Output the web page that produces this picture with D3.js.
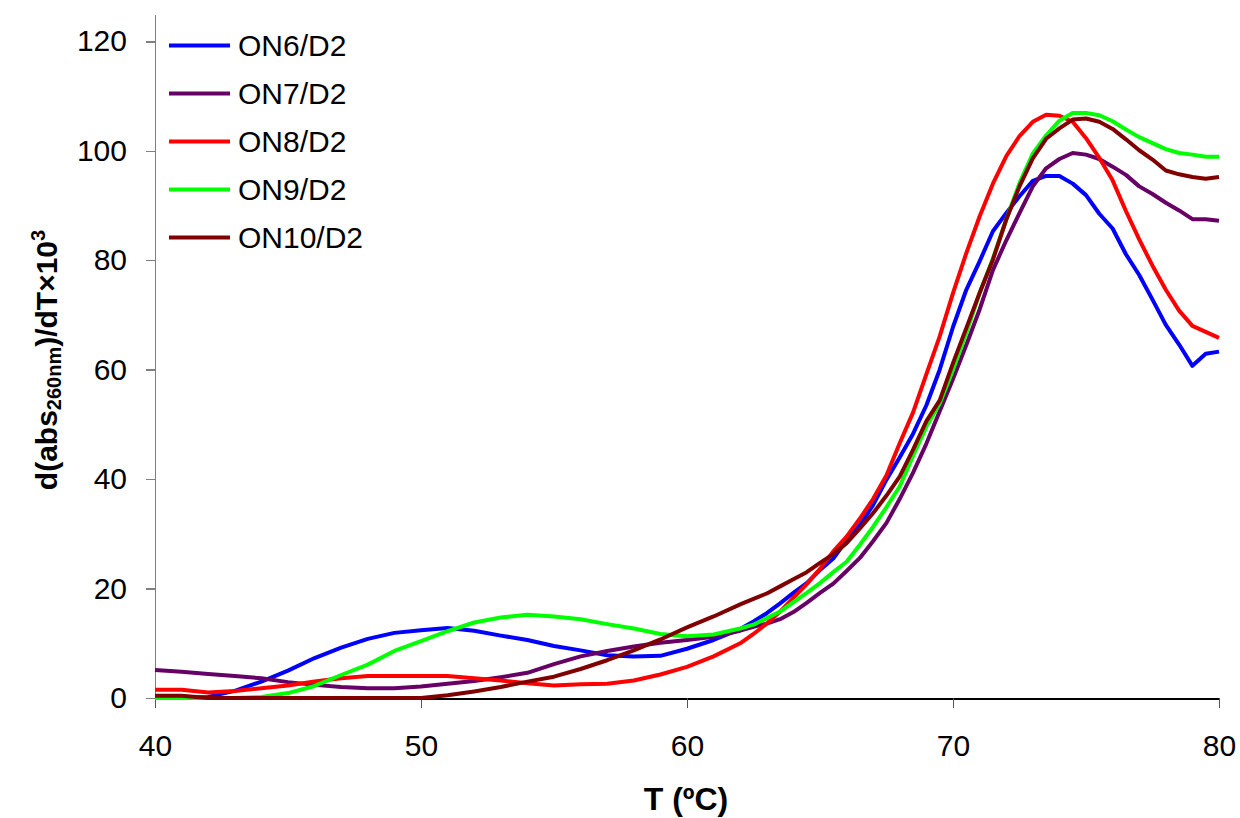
<!DOCTYPE html>
<meta charset="utf-8">
<script src="https://d3js.org/d3.v7.min.js"></script>
<style>
body { margin: 0; background: #fff; }
svg { display: block; font-family: "Liberation Sans", Arial, sans-serif; }
.axis path, .axis line { shape-rendering: crispEdges; }
</style>
<svg width="1240" height="818"></svg>
<script>
// temperatures (ºC): 1 ºC steps up to 62, then 0.5 ºC steps
const temps = [40, 41, 42, 43, 44, 45, 46, 47, 48, 49, 50, 51, 52, 53, 54, 55, 56, 57, 58, 59, 60, 61, 62,
  62.5, 63, 63.5, 64, 64.5, 65, 65.5, 66, 66.5, 67, 67.5, 68, 68.5, 69, 69.5, 70, 70.5, 71, 71.5, 72,
  72.5, 73, 73.5, 74, 74.5, 75, 75.5, 76, 76.5, 77, 77.5, 78, 78.5, 79, 79.5, 80];

const on6 = [0, 0, 0.2, 1.3, 3, 5, 7.3, 9.2, 10.8, 11.9, 12.4, 12.8, 12.3, 11.4, 10.6, 9.5, 8.7, 7.8, 7.6, 7.7, 9.0, 10.6, 12.6,
  14, 15.5, 17.3, 19.2, 21, 23.4, 25.5, 28.8, 31.6, 35.3, 39.9, 44, 48.3, 53.5, 60, 67.8, 74.6, 79.8, 85.3, 88.6,
  91.7, 94.5, 95.4, 95.4, 94, 91.9, 88.5, 85.8, 81.1, 77.3, 72.8, 68.2, 64.6, 60.7, 62.9, 63.3];

const on7 = [5.1, 4.8, 4.4, 4.0, 3.6, 2.9, 2.4, 2.0, 1.8, 1.8, 2.1, 2.6, 3.1, 3.8, 4.6, 6.2, 7.6, 8.6, 9.4, 10.1, 10.6, 11.2, 12.3,
  13, 13.6, 14.4, 15.7, 17.4, 19.2, 20.9, 23.2, 25.6, 28.7, 32, 36.4, 41.2, 46.5, 52.4, 58.3, 64.5, 71, 78.2, 83.6,
  88.6, 93.5, 96.8, 98.5, 99.6, 99.3, 98.5, 97.1, 95.6, 93.5, 92.1, 90.5, 89.1, 87.5, 87.5, 87.2];

const on8 = [1.5, 1.5, 1.0, 1.3, 1.8, 2.3, 3.0, 3.6, 4.0, 4.0, 4.0, 4.0, 3.6, 3.2, 2.7, 2.3, 2.5, 2.6, 3.2, 4.3, 5.7, 7.6, 10,
  11.7, 13.6, 15.8, 18.3, 20.8, 23.6, 26.8, 29.5, 32.8, 36.4, 40.7, 46.6, 52.2, 59.2, 66.1, 74, 81.3, 88, 94, 99,
  102.7, 105.3, 106.6, 106.4, 105.3, 102.3, 98.7, 94.6, 89, 83.8, 79, 74.6, 70.8, 68, 66.9, 65.8];

const on9 = [0, 0, 0, 0, 0.2, 0.9, 2.2, 4.2, 6.1, 8.6, 10.4, 12.2, 13.8, 14.7, 15.2, 14.9, 14.4, 13.5, 12.7, 11.7, 11.3, 11.6, 12.7,
  13.4, 14.6, 15.8, 17.5, 19.2, 21, 23, 24.9, 28, 31.3, 34.9, 38.7, 44.3, 49.6, 53.8, 60, 66.7, 74, 80.3, 87.4,
  94.1, 99.5, 102.8, 105.5, 106.9, 106.9, 106.5, 105.4, 103.9, 102.5, 101.4, 100.3, 99.6, 99.3, 98.9, 98.9];

const on10 = [0.4, 0.4, 0, 0, 0, 0, 0, 0, 0, 0, 0, 0.5, 1.2, 2.0, 3.0, 3.9, 5.3, 6.9, 8.7, 10.7, 12.9, 14.9, 17.1,
  18.1, 19.1, 20.4, 21.7, 23, 24.7, 26.3, 28.3, 31, 33.8, 37, 40.5, 45.4, 50.6, 54.4, 61.2, 67.6, 74, 80.1, 87.4,
  93.5, 98.6, 102.2, 104.1, 105.7, 105.9, 105.3, 104, 102.1, 100.1, 98.4, 96.4, 95.7, 95.2, 94.9, 95.2];

const seriesNames = ['ON6/D2', 'ON7/D2', 'ON8/D2', 'ON9/D2', 'ON10/D2'];
const seriesValues = [on6, on7, on8, on9, on10];
const seriesColors = ['#0000ff', '#660066', '#ff0000', '#00ff00', '#800000'];

const xTicks = [40, 50, 60, 70, 80];
const yTicks = [0, 20, 40, 60, 80, 100, 120];

const svg = d3.select('svg');

const x = d3.scaleLinear().domain([40, 80]).range([155, 1219]);
const y = d3.scaleLinear().domain([0, 125]).range([698, 14]);

// axes
const yAxis = svg.append('g')
  .attr('class', 'axis')
  .attr('transform', 'translate(155,0)')
  .call(d3.axisLeft(y).tickValues(yTicks).tickSize(9).tickPadding(19).tickSizeOuter(0));
yAxis.select('.domain').attr('stroke', '#808080').attr('stroke-width', 1.5);
yAxis.selectAll('.tick line').attr('stroke', '#808080').attr('stroke-width', 1.5);
yAxis.selectAll('text').attr('font-size', 30).attr('font-family', '"Liberation Sans", Arial, sans-serif').attr('fill', '#000');

const xAxis = svg.append('g')
  .attr('class', 'axis')
  .attr('transform', 'translate(0,698)')
  .call(d3.axisBottom(x).tickValues(xTicks).tickSize(10).tickPadding(27).tickSizeOuter(0));
xAxis.select('.domain').attr('stroke', '#000').attr('stroke-width', 2);
xAxis.selectAll('.tick line').attr('stroke', '#555').attr('stroke-width', 1.5);
xAxis.selectAll('text').attr('font-size', 30).attr('font-family', '"Liberation Sans", Arial, sans-serif').attr('fill', '#000');

// lines
const line = d3.line()
  .x((d, i) => x(temps[i]))
  .y(d => y(d));

svg.append('g')
  .selectAll('path')
  .data(seriesValues)
  .enter()
  .append('path')
  .attr('d', line)
  .attr('fill', 'none')
  .attr('stroke', (d, i) => seriesColors[i])
  .attr('stroke-width', 4)
  .attr('stroke-linejoin', 'round');

// legend
const legend = svg.append('g')
  .selectAll('g')
  .data(seriesNames)
  .enter()
  .append('g')
  .attr('transform', (d, i) => `translate(169,${45.5 + i * 48})`);

legend.append('line')
  .attr('x1', 0).attr('x2', 61)
  .attr('stroke', (d, i) => seriesColors[i])
  .attr('stroke-width', 4);

legend.append('text')
  .attr('x', 69)
  .attr('dy', '0.36em')
  .attr('font-size', 30)
  .text(d => d);

// axis titles
svg.append('text')
  .attr('x', 686)
  .attr('y', 810)
  .attr('text-anchor', 'middle')
  .attr('font-size', 32)
  .attr('font-weight', 'bold')
  .text('T (ºC)');

const yTitle = svg.append('text')
  .attr('transform', 'translate(57,360) rotate(-90)')
  .attr('text-anchor', 'middle')
  .attr('font-size', 30)
  .attr('font-weight', 'bold');
yTitle.append('tspan').text('d(abs');
yTitle.append('tspan').attr('font-size', 20).attr('dy', 4).text('260nm');
yTitle.append('tspan').attr('dy', -4).text(')/dT×10');
yTitle.append('tspan').attr('font-size', 20).attr('dy', -12).text('3');
</script>
